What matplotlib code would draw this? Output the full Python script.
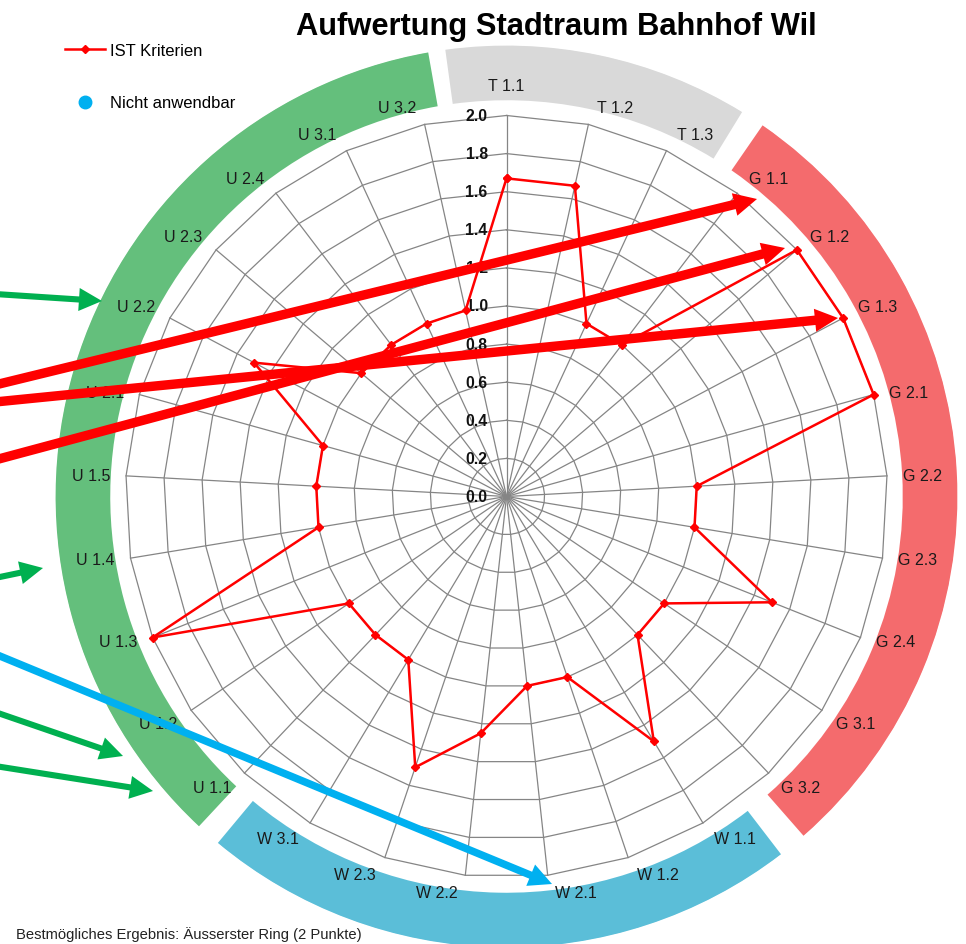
import numpy as np
import matplotlib
matplotlib.use("Agg")
import matplotlib.pyplot as plt
from matplotlib.lines import Line2D

plt.rcParams['font.family'] = ['Liberation Sans', 'DejaVu Sans']

title = "Aufwertung Stadtraum Bahnhof Wil"
footnote = "Bestmögliches Ergebnis: Äusserster Ring (2 Punkte)"

categories = ["T 1.1", "T 1.2", "T 1.3",
              "G 1.1", "G 1.2", "G 1.3", "G 2.1", "G 2.2", "G 2.3", "G 2.4", "G 3.1", "G 3.2",
              "W 1.1", "W 1.2", "W 2.1", "W 2.2", "W 2.3", "W 3.1",
              "U 1.1", "U 1.2", "U 1.3", "U 1.4", "U 1.5", "U 2.1", "U 2.2", "U 2.3",
              "U 2.4", "U 3.1", "U 3.2"]
ist_values = [1.67, 1.67, 1.0,
              1.0, 2.0, 2.0, 2.0, 1.0, 1.0, 1.5, 1.0, 1.0,
              1.5, 1.0, 1.0, 1.25, 1.5, 1.0,
              1.0, 1.0, 2.0, 1.0, 1.0, 1.0, 1.5, 1.0,
              1.0, 1.0, 1.0]
r_ticks = [0.0, 0.2, 0.4, 0.6, 0.8, 1.0, 1.2, 1.4, 1.6, 1.8, 2.0]
r_tick_labels = ["0.0", "0.2", "0.4", "0.6", "0.8", "1.0", "1.2", "1.4", "1.6", "1.8", "2.0"]
legend_labels = ["IST Kriterien", "Nicht anwendbar"]

# outer ring segments (degrees clockwise from top)
ring_start = [-7.8, 34.6, 142.5, 223.0]
ring_end = [31.5, 138.8, 219.8, 350.0]
ring_colors = ["#d9d9d9", "#f46b6d", "#5bbed8", "#64bf7c"]

# hand drawn arrows on top of the chart, image pixels (x, y from top-left)
arrows = [
    ((-5, 386), (757, 200), "#ff0000", 0.34),
    ((-5, 403), (838, 319), "#ff0000", 0.34),
    ((-5, 461), (785, 249), "#ff0000", 0.34),
    ((-5, 295), (102, 302), "#00b050", 0.22),
    ((-5, 579), (43, 569), "#00b050", 0.22),
    ((-5, 713), (123, 757), "#00b050", 0.22),
    ((-5, 767), (153, 792), "#00b050", 0.22),
    ((-5, 655), (552, 885), "#00b0f0", 0.27),
]

W, H = 966, 945
fig = plt.figure(figsize=(W / 100, H / 100), dpi=100)
ax = fig.add_axes([55 / W, -4 / H, 903 / W, 903 / H], projection='polar')
ax.set_theta_zero_location('N')
ax.set_theta_direction(-1)
ax.set_ylim(0, 2.37)
ax.grid(False)
ax.set_xticks([])
ax.set_yticks([])
ax.spines['polar'].set_visible(False)

n = len(categories)
angles = np.arange(n) * 2 * np.pi / n
closed = np.append(angles, angles[0])

# coloured outer ring
for s, e, c in zip(ring_start, ring_end, ring_colors):
    ax.bar(np.deg2rad(s), 0.287, width=np.deg2rad(e - s), bottom=2.08,
           align='edge', color=c, edgecolor='none', zorder=0)

# polygon grid + spokes
grid_c = "#858585"
for v in r_ticks[1:]:
    ax.plot(closed, [v] * (n + 1), color=grid_c, lw=0.9, zorder=1)
for a in angles:
    ax.plot([a, a], [0, r_ticks[-1]], color=grid_c, lw=0.9, zorder=1)

# radial tick labels along the top spoke
for v, lab in zip(r_ticks, r_tick_labels):
    ax.annotate(lab, xy=(0, v), xytext=(-13.5, 0), textcoords='offset points',
                ha='right', va='center', fontsize=11.3, fontweight='bold', color='#111111',
                zorder=4)

# category labels
for a, lab in zip(angles, categories):
    s, c = np.sin(a), np.cos(a)
    ha = 'center' if abs(s) < 0.1 else ('left' if s > 0 else 'right')
    va = 'center' if abs(c) < 0.4 else ('bottom' if c > 0 else 'top')
    dx = 0 if ha == 'center' else 4.5 * np.sign(s)
    dy = 9 if ha == 'center' else 0
    ax.annotate(lab, xy=(a, 2.05), xytext=(dx, dy), textcoords='offset points',
                ha=ha, va=va, fontsize=11.5, color='#1a1a1a', zorder=4)

# data
ax.plot(closed, ist_values + ist_values[:1], color='#ff0000', lw=1.8,
        marker='D', ms=4.5, zorder=5)

# legend
handles = [Line2D([], [], color='#ff0000', lw=1.8, marker='D', ms=4.5),
           Line2D([], [], ls='none', marker='o', ms=9, color='#00b0f0')]
fig.legend(handles, legend_labels, loc='upper left', bbox_to_anchor=(65 / W, 1 - 44 / H),
           frameon=False, fontsize=12, handlelength=2.4, handletextpad=0.3,
           labelspacing=2.25, borderpad=0, borderaxespad=0)

fig.text(556 / W, 1 - 27 / H, title, ha='center', va='center', fontsize=22.2, fontweight='bold')
fig.text(16 / W, 1 - 935 / H, footnote, ha='left', va='center', fontsize=10.6, color='#222222')

# arrows
for (x0, y0), (x1, y1), col, tw in arrows:
    ax.annotate('', xy=(x1, H - y1), xycoords='figure pixels',
                xytext=(x0, H - y0), textcoords='figure pixels',
                arrowprops=dict(arrowstyle=f'simple,head_length=0.83,head_width=0.83,tail_width={tw}',
                                mutation_scale=20, fc=col, ec='none', lw=0,
                                shrinkA=0, shrinkB=0),
                annotation_clip=False, zorder=10)

fig.savefig('out.png', dpi=100)
